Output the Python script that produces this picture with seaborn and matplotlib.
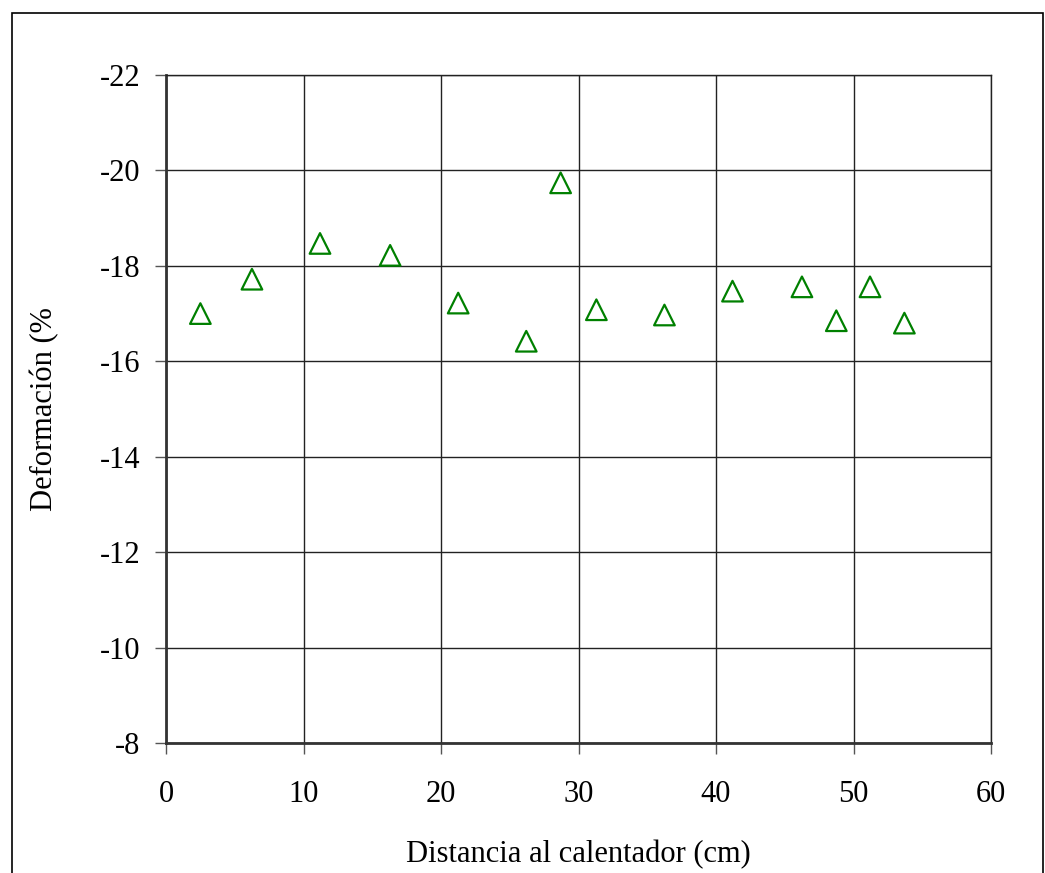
import matplotlib
matplotlib.use("Agg")
import matplotlib.pyplot as plt
import seaborn as sns
import pandas as pd
from matplotlib.patches import Rectangle

distancia = [2.5, 6.25, 11.2, 16.3, 21.25, 26.2, 28.7, 31.3, 36.25, 41.2, 46.25, 48.75, 51.2, 53.7]
deformacion = [-17.0, -17.72, -18.47, -18.22, -17.22, -16.42, -19.74, -17.08, -16.97,
               -17.47, -17.56, -16.85, -17.56, -16.80]
x_ticks = [0, 10, 20, 30, 40, 50, 60]
y_ticks = [-22, -20, -18, -16, -14, -12, -10, -8]

df = pd.DataFrame({"x": distancia, "y": deformacion})

sns.set_style("white")
plt.rcParams["font.family"] = ["Liberation Serif", "DejaVu Serif"]
plt.rcParams["text.color"] = "black"
plt.rcParams["axes.labelcolor"] = "black"
plt.rcParams["xtick.labelcolor"] = "black"
plt.rcParams["ytick.labelcolor"] = "black"

fig = plt.figure(figsize=(10.45, 8.73), dpi=100)
ax = fig.add_axes([166 / 1045, 1 - 743 / 873, (991 - 166) / 1045, (743 - 75) / 873])

sns.scatterplot(data=df, x="x", y="y", ax=ax, marker="^", s=220,
                facecolors="none", edgecolor="#008000", linewidth=1.6, zorder=3)

ax.set_xlim(0, 60)
ax.set_ylim(-8, -22)
ax.set_xticks(x_ticks)
ax.set_yticks(y_ticks)
ax.set_xticklabels([str(v) for v in x_ticks])
ax.set_yticklabels([str(v) for v in y_ticks])
ax.grid(True, color="#222222", linewidth=1.0)
ax.set_axisbelow(True)
for side in ["top", "right"]:
    ax.spines[side].set_linewidth(1.0)
    ax.spines[side].set_color("#222222")
for side in ["left", "bottom"]:
    ax.spines[side].set_linewidth(2.0)
    ax.spines[side].set_color("#333333")
ax.tick_params(axis="both", which="both", direction="out", length=8, width=1,
               color="#555555", labelsize=22, left=True, bottom=True,
               labelcolor="black")
ax.tick_params(axis="x", pad=19)
ax.tick_params(axis="y", pad=10.5)

ax.set_xlabel("Distancia al calentador (cm)", fontsize=22, labelpad=22, color="black")
ax.set_ylabel("Deformación (%", fontsize=22, labelpad=29, color="black")

fig.patches.append(Rectangle((12 / 1045, -0.05), (1043 - 12) / 1045, 1.05 - 13 / 873,
                             transform=fig.transFigure, fill=False,
                             edgecolor="black", linewidth=1.2, zorder=0))

fig.savefig("out.png", dpi=100)
